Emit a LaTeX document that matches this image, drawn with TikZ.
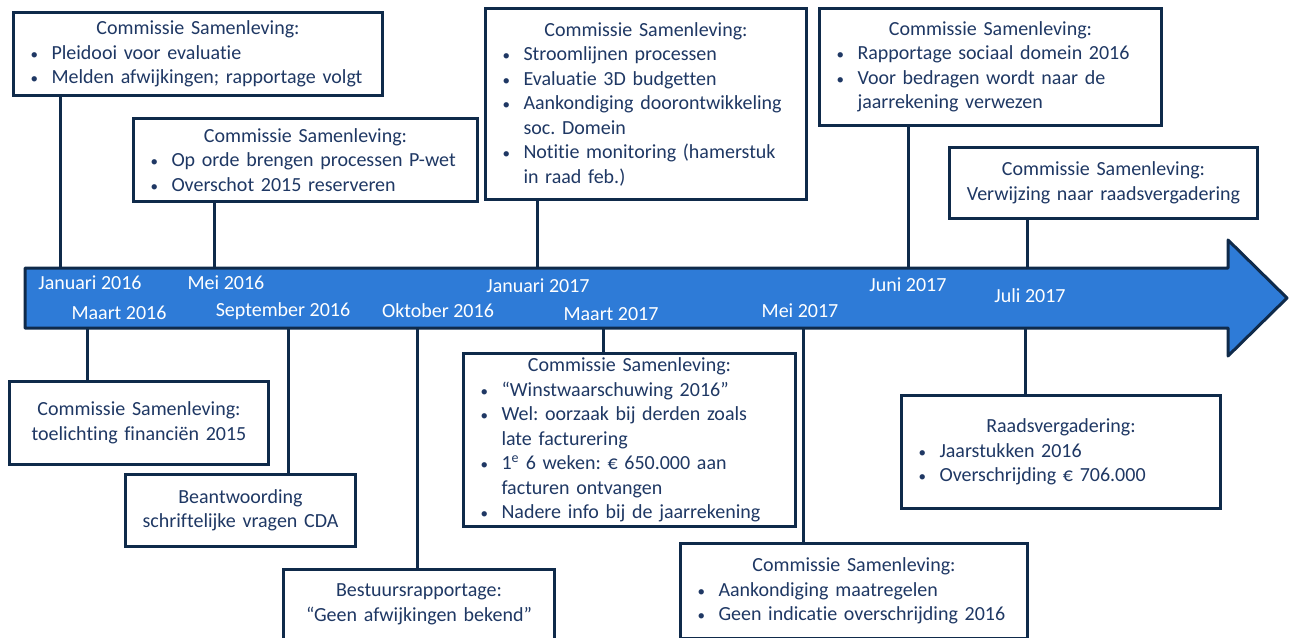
\documentclass[tikz,border=0pt]{standalone}
\usepackage{fontspec}
\setmainfont[Ligatures={TeX,NoCommon}]{Carlito}
\usetikzlibrary{positioning,calc}
\definecolor{navy}{HTML}{0F2A4A}
\definecolor{ink}{HTML}{1F3864}
\definecolor{barblue}{HTML}{2E7BD7}
\newcommand{\bl}{\par\noindent\hangindent=24pt\hangafter=1\makebox[24pt][l]{\hspace{3pt}{\fontsize{15}{15}\selectfont\textbullet}}}
\newcommand{\hd}[1]{{\centering #1\par}}
\frenchspacing

\begin{document}
\begin{tikzpicture}[x=1pt,y=-1pt,
  box/.style={draw=navy,line width=3pt,fill=white,text=ink,anchor=north west,
    font=\fontsize{20}{24.5}\selectfont,inner xsep=14pt,inner ysep=5pt,align=left},
  cbox/.style={box,align=center},
  conn/.style={draw=navy,line width=3pt},
  lbl/.style={text=white,font=\fontsize{20}{24}\selectfont,inner sep=0pt}]
\useasboundingbox (0,0) rectangle (1290,637);
% the time bar
\draw[navy,line width=3pt,fill=barblue,line join=round]
  (25,268) -- (1228,268) -- (1228,240) -- (1287,298) -- (1228,356) -- (1228,328) -- (25,328) -- cycle;
\node[lbl] (lJan16) at (90,283)   {Januari 2016};
\node[lbl] (lMei16) at (226,283)  {Mei 2016};
\node[lbl] (lJan17) at (538,286)  {Januari 2017};
\node[lbl] (lJun17) at (908,285)  {Juni 2017};
\node[lbl] (lJul17) at (1030,296) {Juli 2017};
\node[lbl] (lMrt16) at (119,313)  {Maart 2016};
\node[lbl] (lSep16) at (283,311)  {September 2016};
\node[lbl] (lOkt16) at (438,311)  {Oktober 2016};
\node[lbl] (lMrt17) at (611,314)  {Maart 2017};
\node[lbl] (lMei17) at (800,311)  {Mei 2017};
% boxes above
\node[box,text width=341,minimum height=83] (csJan16) at (12,11)
  {\hd{Commissie Samenleving:}\bl Pleidooi voor evaluatie\bl Melden afwijkingen; rapportage volgt\par};
\node[box,text width=316,minimum height=83] (csMei16) at (132,117)
  {\hd{Commissie Samenleving:}\bl Op orde brengen processen P-wet\bl Overschot 2015 reserveren\par};
\node[box,text width=293,minimum height=191] (csJan17) at (484,7)
  {\hd{Commissie Samenleving:}\bl Stroomlijnen processen\bl Evaluatie 3D budgetten
   \bl Aankondiging doorontwikkeling\newline soc. Domein\bl Notitie monitoring (hamerstuk\newline in raad feb.)\par};
\node[box,text width=314,minimum height=117] (csJun17) at (818,7)
  {\hd{Commissie Samenleving:}\bl Rapportage sociaal domein 2016\bl Voor bedragen wordt naar de\newline jaarrekening verwezen\par};
\node[cbox,inner xsep=6pt,text width=296,minimum height=71] (csJul17) at (948,146)
  {Commissie Samenleving:\\ Verwijzing naar raadsvergadering};
% boxes below
\node[cbox,inner xsep=6pt,text width=247,minimum height=83] (csMrt16) at (8,380)
  {Commissie Samenleving:\\ toelichting financiën 2015};
\node[cbox,inner xsep=6pt,text width=218,minimum height=72] (antSep16) at (124,473)
  {Beantwoording\\ schriftelijke vragen CDA};
\node[cbox,inner xsep=6pt,text width=259,minimum height=70] (bstOkt16) at (282,568)
  {Bestuursrapportage:\\ “Geen afwijkingen bekend”};
\node[box,inner ysep=1pt,text width=304,minimum height=173] (csMrt17) at (462,352)
  {\hd{Commissie Samenleving:}\bl “Winstwaarschuwing 2016”\bl Wel: oorzaak bij derden zoals\newline late facturering
   \bl 1\textsuperscript{e} 6 weken: € 650.000 aan\newline facturen ontvangen\bl Nadere info bij de jaarrekening\par};
\node[box,text width=319,minimum height=95] (csMei17) at (679,542)
  {\hd{Commissie Samenleving:}\bl Aankondiging maatregelen\bl Geen indicatie overschrijding 2016\par};
\node[box,text width=291,minimum height=113] (raadJul17) at (900,394)
  {\hd{Raadsvergadering:}\bl Jaarstukken 2016\bl Overschrijding € 706.000\par};
% ticks on the bar
\coordinate (tJan16) at (60,268);
\coordinate (tMei16) at (214,268);
\coordinate (tJan17) at (537,268);
\coordinate (tJun17) at (908,268);
\coordinate (tJul17) at (1027,268);
\coordinate (tMrt16) at (87,328);
\coordinate (tSep16) at (288,328);
\coordinate (tOkt16) at (417,328);
\coordinate (tMrt17) at (603,328);
\coordinate (tMei17) at (803,328);
\coordinate (tJul17b) at (1025,328);
%
\path[conn]
  (tJan16)  edge (tJan16 |- csJan16.south)
  (tMei16)  edge (tMei16 |- csMei16.south)
  (tJan17)  edge (tJan17 |- csJan17.south)
  (tJun17)  edge (tJun17 |- csJun17.south)
  (tJul17)  edge (tJul17 |- csJul17.south)
  (tMrt16)  edge (tMrt16 |- csMrt16.north)
  (tSep16)  edge (tSep16 |- antSep16.north)
  (tOkt16)  edge (tOkt16 |- bstOkt16.north)
  (tMrt17)  edge (tMrt17 |- csMrt17.north)
  (tMei17)  edge (tMei17 |- csMei17.north)
  (tJul17b) edge (tJul17b |- raadJul17.north)
; %-ticks-%
\end{tikzpicture}
\end{document}
